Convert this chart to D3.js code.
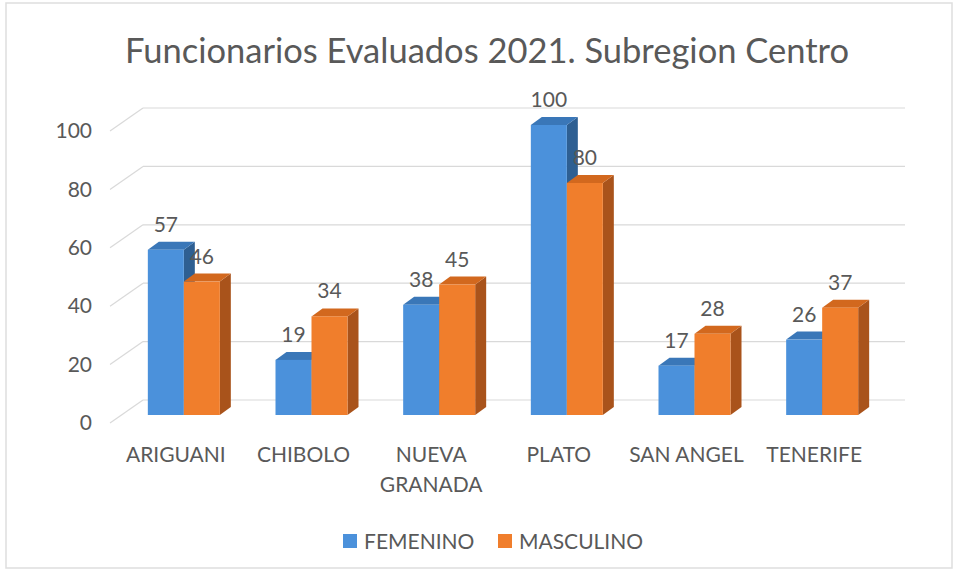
<!DOCTYPE html>
<html>
<head>
<meta charset="utf-8">
<script src="https://cdn.jsdelivr.net/npm/d3@7"></script>
<style>
  body { margin: 0; background: #fff; }
  text { font-family: Lato, "Open Sans", sans-serif; fill: #595959; }
</style>
</head>
<body>
<div id="chart"></div>
<script>
var categories = ['ARIGUANI', 'CHIBOLO', 'NUEVA GRANADA', 'PLATO', 'SAN ANGEL', 'TENERIFE'];
var series = ['FEMENINO', 'MASCULINO'];
var femenino = [57, 19, 38, 100, 17, 26];
var masculino = [46, 34, 45, 80, 28, 37];
var y_ticks = [0, 20, 40, 60, 80, 100];
var title = 'Funcionarios Evaluados 2021. Subregion Centro';

var chart_width = 954;
var chart_height = 575;
var depth_x = 33, depth_y = -23;   // side wall depth
var bar_dx = 11, bar_dy = -8;      // bar thickness
var colors = {
    FEMENINO: { front: '#4b91db', top: '#3a77b8', side: '#2e5f92' },
    MASCULINO: { front: '#f07e2c', top: '#d2681e', side: '#a9531b' }
};

var svg = d3.select('#chart')
    .append('svg')
    .attr('width', chart_width)
    .attr('height', chart_height);

// frame
svg.append('rect')
    .attr('x', 6).attr('y', 3)
    .attr('width', 946).attr('height', 565)
    .attr('fill', '#fff')
    .attr('stroke', '#dedede')
    .attr('stroke-width', 1.5);

// title
svg.append('text')
    .attr('x', 487).attr('y', 63)
    .attr('text-anchor', 'middle')
    .style('font-size', '34.5px')
    .attr('fill', '#606060')
    .text(title);

// scales
var x0 = d3.scaleBand().domain(categories).range([120, 886]);
var x1 = d3.scaleBand().domain(series).range([0, 72]);
var y_back = d3.scaleLinear().domain([0, 100]).range([400, 108]);
var y_front = d3.scaleLinear().domain([0, 100]).range([400 - depth_y, 108 - depth_y]);
var y_bar = d3.scaleLinear().domain([0, 100]).range([415, 125]);

// gridlines on back wall + side wall
var grid = svg.append('g').attr('stroke', '#d9d9d9').attr('stroke-width', 1.2);
y_ticks.forEach(function(t){
    grid.append('line')
        .attr('x1', 110 + depth_x).attr('x2', 905)
        .attr('y1', y_back(t)).attr('y2', y_back(t));
    grid.append('line')
        .attr('x1', 110).attr('x2', 110 + depth_x)
        .attr('y1', y_front(t)).attr('y2', y_back(t));
});

// y axis labels
var y_axis = d3.axisLeft(y_front)
    .tickValues(y_ticks)
    .tickSize(0)
    .tickPadding(3);
var ya = svg.append('g')
    .attr('transform', 'translate(95,0)')
    .call(y_axis);
ya.select('.domain').remove();
ya.selectAll('text')
    .style('font-size', '21px')
    .style('font-family', 'Lato, sans-serif')
    .attr('fill', '#666');

// bars
var data = categories.map(function(c, i){
    return { cat: c, FEMENINO: femenino[i], MASCULINO: masculino[i] };
});

function barX(d, s) {
    return x0(d.cat) + (x0.bandwidth() - 72) / 2 + x1(s);
}

series.forEach(function(s){
    var g = svg.append('g');
    data.forEach(function(d){
        var x = barX(d, s), w = x1.bandwidth();
        var y = y_bar(d[s]), yb = y_bar(0);
        // side face
        g.append('path')
            .attr('d', 'M' + (x + w) + ',' + y + 'L' + (x + w + bar_dx) + ',' + (y + bar_dy) +
                'L' + (x + w + bar_dx) + ',' + (yb + bar_dy) + 'L' + (x + w) + ',' + yb + 'Z')
            .attr('fill', colors[s].side);
        // top face
        g.append('path')
            .attr('d', 'M' + x + ',' + y + 'L' + (x + bar_dx) + ',' + (y + bar_dy) +
                'L' + (x + w + bar_dx) + ',' + (y + bar_dy) + 'L' + (x + w) + ',' + y + 'Z')
            .attr('fill', colors[s].top);
        // front face
        g.append('rect')
            .attr('x', x).attr('y', y)
            .attr('width', w).attr('height', yb - y)
            .attr('fill', colors[s].front);
    });
});

// value labels
series.forEach(function(s){
    svg.append('g').selectAll('text')
        .data(data)
        .enter().append('text')
        .attr('x', function(d){ return barX(d, s) + x1.bandwidth() / 2; })
        .attr('y', function(d){ return y_bar(d[s]) - 18; })
        .attr('text-anchor', 'middle')
        .style('font-size', '21px')
        .text(function(d){ return d[s]; });
});

// category labels
var cl = svg.append('g').selectAll('text')
    .data(categories)
    .enter().append('text')
    .attr('text-anchor', 'middle')
    .style('font-size', '21px')
    .attr('transform', function(d){
        return 'translate(' + (x0(d) + x0.bandwidth() / 2 - 8) + ',462)';
    });
cl.each(function(d){
    var el = d3.select(this);
    var words = d.split(' ');
    el.text(d);
    if (this.getComputedTextLength() > 125 && words.length > 1) {
        el.text(null);
        words.forEach(function(w, i){
            el.append('tspan').attr('x', 0).attr('dy', i ? 30 : 0).text(w);
        });
    }
});

// legend
var legend_x = [343, 498];
series.forEach(function(s, i){
    svg.append('rect')
        .attr('x', legend_x[i]).attr('y', 534)
        .attr('width', 14).attr('height', 14)
        .attr('fill', colors[s].front);
    svg.append('text')
        .attr('x', legend_x[i] + 21).attr('y', 549)
        .style('font-size', '21px')
        .text(s);
});
</script>
</body>
</html>
